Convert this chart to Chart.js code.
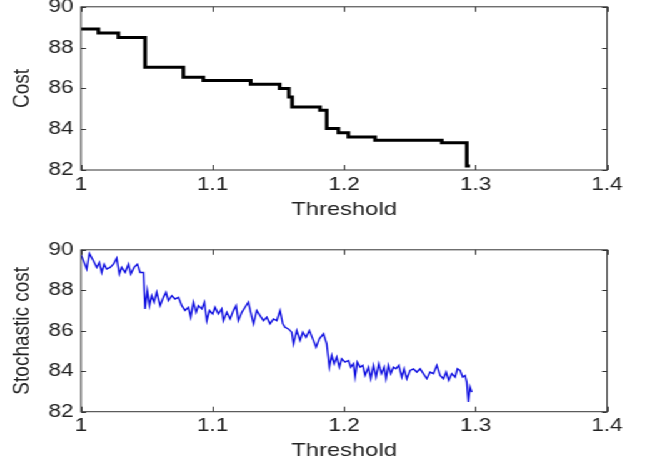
<!DOCTYPE html>
<html>
<head>
<meta charset="utf-8">
<script src="https://cdn.jsdelivr.net/npm/chart.js@4/dist/chart.umd.min.js"></script>
<style>
  html, body { margin: 0; padding: 0; background: #fff; overflow: hidden; }
  body { width: 649px; height: 465px; position: relative; }
  /* the original figure is stretched sideways, so the whole page is too */
  #stretch { position: absolute; left: 0; top: 0; width: 519px; height: 480px;
             transform: scaleX(1.25); transform-origin: 0 0; }
  .box { position: absolute; left: 0; width: 519px; }
  #box-top { top: -10px; height: 231px; }
  #box-bottom { top: 233px; height: 229px; }
</style>
</head>
<body>
<div id="stretch">
  <div class="box" id="box-top"><canvas id="costChart"></canvas></div>
  <div class="box" id="box-bottom"><canvas id="stochChart"></canvas></div>
</div>
<script>
// ========== DATA ==========
const xTicks = [1, 1.1, 1.2, 1.3, 1.4];
const yTicks = [82, 84, 86, 88, 90];

// deterministic cost: step function (threshold where each level ends)
const costThreshold = [1.000, 1.0132, 1.0284, 1.0487, 1.0778, 1.0930, 1.1290, 1.1510,
  1.1580, 1.1605, 1.1817, 1.1868, 1.1957, 1.2033, 1.2236, 1.2743, 1.2933, 1.2958];
const costValue = [88.91, 88.91, 88.72, 88.50, 87.04, 86.55, 86.39, 86.20,
  85.99, 85.58, 85.09, 84.93, 84.03, 83.82, 83.62, 83.46, 83.33, 82.20];

// stochastic cost
const stochThreshold = [1.0000, 1.0043, 1.0063, 1.0094, 1.0119, 1.0139, 1.0157, 1.0175,
  1.0195, 1.0221, 1.0246, 1.0271, 1.0291, 1.0309, 1.0335, 1.0360, 1.0378, 1.0403,
  1.0428, 1.0449, 1.0474, 1.0487, 1.0504, 1.0520, 1.0537, 1.0555, 1.0575, 1.0601,
  1.0626, 1.0646, 1.0664, 1.0690, 1.0715, 1.0740, 1.0766, 1.0791, 1.0816, 1.0834,
  1.0854, 1.0875, 1.0892, 1.0918, 1.0938, 1.0956, 1.0976, 1.1001, 1.1019, 1.1044,
  1.1070, 1.1082, 1.1108, 1.1133, 1.1158, 1.1179, 1.1196, 1.1222, 1.1247, 1.1272,
  1.1290, 1.1311, 1.1336, 1.1361, 1.1387, 1.1412, 1.1437, 1.1463, 1.1488, 1.1513,
  1.1534, 1.1551, 1.1577, 1.1602, 1.1615, 1.1640, 1.1665, 1.1686, 1.1711, 1.1736,
  1.1762, 1.1787, 1.1812, 1.1843, 1.1868, 1.1888, 1.1906, 1.1924, 1.1944, 1.1964,
  1.1982, 1.2008, 1.2033, 1.2051, 1.2071, 1.2084, 1.2101, 1.2122, 1.2142, 1.2160,
  1.2185, 1.2203, 1.2223, 1.2243, 1.2264, 1.2284, 1.2304, 1.2319, 1.2337, 1.2355,
  1.2375, 1.2395, 1.2416, 1.2439, 1.2456, 1.2477, 1.2502, 1.2527, 1.2553, 1.2578,
  1.2603, 1.2629, 1.2654, 1.2679, 1.2705, 1.2730, 1.2755, 1.2776, 1.2796, 1.2819,
  1.2844, 1.2862, 1.2882, 1.2902, 1.2920, 1.2933, 1.2945, 1.2958, 1.2971];
const stochValue = [89.75, 89.05, 89.82, 89.46, 89.13, 89.38, 88.88, 89.29,
  89.05, 89.13, 89.29, 89.59, 88.80, 89.13, 88.88, 89.29, 88.80, 89.13,
  89.29, 88.88, 88.88, 87.08, 87.98, 87.24, 87.73, 87.41, 87.90, 87.24,
  87.65, 87.90, 87.49, 87.73, 87.57, 87.65, 87.24, 87.00, 87.16, 86.67,
  87.41, 86.91, 87.24, 87.08, 87.41, 86.50, 87.00, 86.83, 87.16, 86.83,
  87.08, 86.50, 86.91, 86.58, 87.00, 87.24, 86.50, 86.91, 87.16, 87.41,
  86.91, 86.34, 87.00, 86.75, 86.50, 86.67, 86.34, 86.58, 86.50, 87.00,
  86.34, 86.17, 86.09, 85.93, 85.35, 86.01, 85.52, 85.93, 85.68, 86.01,
  85.60, 85.19, 85.60, 85.85, 85.35, 84.20, 84.78, 84.37, 84.70, 84.20,
  84.61, 84.45, 84.53, 84.20, 84.37, 83.71, 84.45, 84.20, 84.29, 83.79,
  84.20, 83.63, 84.29, 83.71, 84.37, 83.88, 84.20, 83.63, 84.29, 83.88,
  84.20, 84.12, 84.29, 83.71, 84.12, 83.63, 84.04, 84.12, 83.96, 84.12,
  83.88, 83.63, 83.96, 83.88, 84.29, 83.79, 83.63, 83.96, 83.55, 83.88,
  83.71, 84.12, 84.04, 83.71, 83.79, 83.46, 82.48, 83.22, 82.97];

// ========== SHARED STYLE ==========
Chart.defaults.font.family = "'Liberation Sans', Arial, sans-serif";
Chart.defaults.color = "#222";

const AREA_LEFT = 64.8;    // 81px once stretched
const AREA_TOP = 16;
const PAD_RIGHT = 33.4;    // right edge at 607px once stretched

// MATLAB style box with inward ticks on all four sides
const matlabFrame = {
  id: "matlabFrame",
  afterDraw(chart) {
    const { ctx, chartArea: a, scales } = chart;
    ctx.save();
    ctx.strokeStyle = "#333";
    ctx.lineWidth = 1;
    ctx.strokeRect(a.left, a.top, a.right - a.left, a.bottom - a.top);
    ctx.beginPath();
    scales.x.ticks.forEach(t => {
      const x = Math.round(scales.x.getPixelForValue(t.value)) + 0.5;
      ctx.moveTo(x, a.bottom); ctx.lineTo(x, a.bottom - 5);
      ctx.moveTo(x, a.top);    ctx.lineTo(x, a.top + 5);
    });
    scales.y.ticks.forEach(t => {
      const y = Math.round(scales.y.getPixelForValue(t.value)) + 0.5;
      ctx.moveTo(a.left, y);  ctx.lineTo(a.left + 4, y);
      ctx.moveTo(a.right, y); ctx.lineTo(a.right - 4, y);
    });
    ctx.stroke();
    ctx.restore();
  }
};

function makeChart(canvasId, xs, ys, opts) {
  const points = xs.map((x, i) => ({ x: x, y: ys[i] }));
  return new Chart(document.getElementById(canvasId), {
    type: "line",
    data: {
      datasets: [{
        data: points,
        borderColor: opts.color,
        borderWidth: opts.width,
        stepped: opts.stepped || false,
        tension: 0,
        pointRadius: 0,
        fill: false
      }]
    },
    options: {
      responsive: true,
      maintainAspectRatio: false,
      animation: false,
      events: [],
      layout: { padding: { top: AREA_TOP, right: PAD_RIGHT, left: 0, bottom: 0 } },
      plugins: { legend: { display: false }, tooltip: { enabled: false } },
      scales: {
        x: {
          type: "linear",
          min: 1, max: 1.4,
          afterBuildTicks: s => { s.ticks = xTicks.map(v => ({ value: v })); },
          afterFit: s => { s.height = opts.xAxisHeight; },
          grid: { display: false, drawTicks: false },
          border: { display: false },
          ticks: {
            padding: 4,
            maxRotation: 0,
            font: { size: 18 },
            callback: v => String(Number(v.toFixed(1)))
          },
          title: {
            display: true,
            text: "Threshold",
            font: { size: 19 },
            padding: { top: 0, bottom: 0 }
          }
        },
        y: {
          min: 82, max: 90,
          afterBuildTicks: s => { s.ticks = yTicks.map(v => ({ value: v })); },
          afterFit: s => { s.width = AREA_LEFT; },
          grid: { display: false, drawTicks: false },
          border: { display: false },
          ticks: { padding: 6, font: { size: 18 } },
          title: {
            display: true,
            text: opts.yTitle,
            font: { size: 19 },
            padding: { top: 6, bottom: 0 }
          }
        }
      }
    },
    plugins: [matlabFrame]
  });
}

makeChart("costChart", costThreshold, costValue, {
  color: "#000", width: 3, stepped: "after", yTitle: "Cost", xAxisHeight: 51
});
makeChart("stochChart", stochThreshold, stochValue, {
  color: "#1010e0", width: 1.4, yTitle: "Stochastic cost", xAxisHeight: 50.3
});
</script>
</body>
</html>
